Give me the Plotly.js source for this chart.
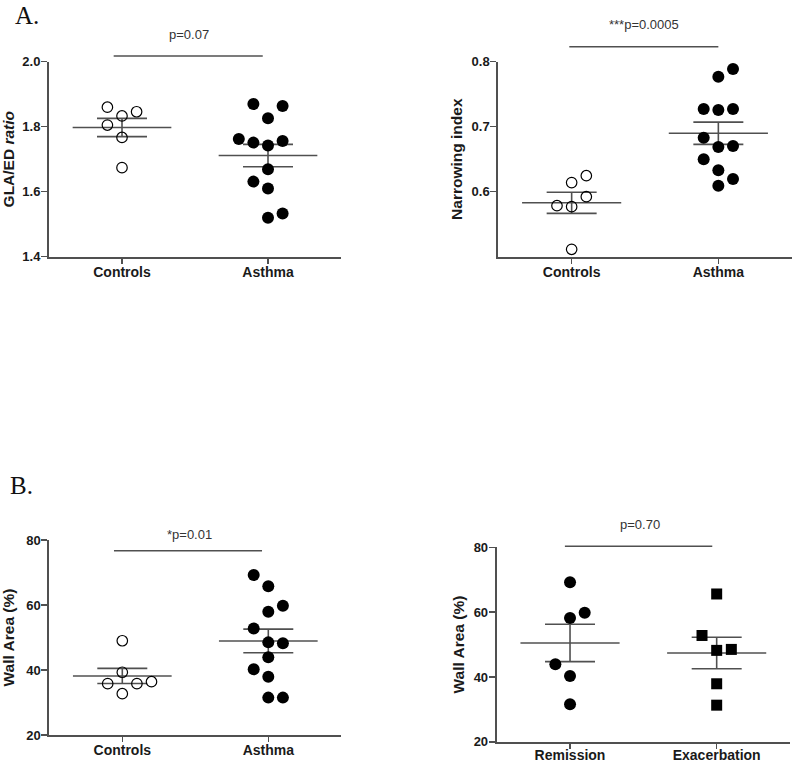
<!DOCTYPE html>
<html>
<head>
<meta charset="utf-8">
<script src="https://cdn.plot.ly/plotly-3.0.1.min.js"></script>
<style>
  html, body { margin: 0; padding: 0; background: #fff; }
  #chart { width: 794px; height: 764px; }
</style>
</head>
<body>
<div id="chart"></div>
<script>
// ---------------- DATA ----------------
// Panel A (left): GLA/ED ratio
const glaCategories = ['Controls', 'Asthma'];
const glaControls = [1.860, 1.846, 1.833, 1.805, 1.767, 1.674];
const glaControlsCols = [-1, 1, 0, -1, 0, 0];
const glaAsthma = [1.870, 1.864, 1.826, 1.762, 1.751, 1.742, 1.756, 1.669, 1.631, 1.610, 1.533, 1.520];
const glaAsthmaCols = [-1, 1, 0, -2, -1, 0, 1, 0, -1, 0, 1, 0];
const glaTicks = [1.4, 1.6, 1.8, 2.0];
const glaTickText = ['1.4', '1.6', '1.8', '2.0'];
const glaP = 'p=0.07';

// Panel A (right): Narrowing index
const niCategories = ['Controls', 'Asthma'];
const niControls = [0.6246, 0.614, 0.5923, 0.5785, 0.577, 0.5114];
const niControlsCols = [1, 0, 1, -1, 0, 0];
const niAsthma = [0.7888, 0.7769, 0.7272, 0.7257, 0.7272, 0.6831, 0.6688, 0.6703, 0.6498, 0.6329, 0.6195, 0.6092];
const niAsthmaCols = [1, 0, -1, 0, 1, -1, 0, 1, -1, 0, 1, 0];
const niTicks = [0.6, 0.7, 0.8];
const niTickText = ['0.6', '0.7', '0.8'];
const niP = '***p=0.0005';

// Panel B (left): Wall area, controls vs asthma
const waCategories = ['Controls', 'Asthma'];
const waControls = [49.0, 39.3, 35.8, 35.8, 36.4, 32.7];
const waControlsCols = [0, 0, -1, 1, 2, 0];
const waAsthma = [69.2, 65.8, 59.8, 57.9, 52.8, 48.5, 48.2, 43.9, 40.2, 37.9, 31.5, 31.5];
const waAsthmaCols = [-1, 0, 1, 0, -1, 0, 1, 0, -1, 0, 0, 1];
const waTicks = [20, 40, 60, 80];
const waTickText = ['20', '40', '60', '80'];
const waP = '*p=0.01';

// Panel B (right): Wall area, remission vs exacerbation
const reCategories = ['Remission', 'Exacerbation'];
const reRemission = [69.2, 58.2, 59.8, 43.9, 40.3, 31.6];
const reRemissionCols = [0, 0, 1, -1, 0, 0];
const reExacerbation = [65.6, 52.8, 48.2, 48.5, 37.9, 31.3];
const reExacerbationCols = [0, -1, 0, 1, 0, 0];
const reTicks = [20, 40, 60, 80];
const reTickText = ['20', '40', '60', '80'];
const reP = 'p=0.70';

// ---------------- STYLE / LAYOUT HELPERS ----------------
const FONT = 'Liberation Sans, Arial, Helvetica, sans-serif';
const LINE = '#505050';
const COL_STEP = 0.1;       // horizontal spacing of dot columns (x units)
const MEAN_HALF = 0.338;    // half-width of mean line (x units)
const SEM_CAP = 25;         // half-width of SEM caps (px)
const XR = [-0.5, 1.5];

function mean(a) { return a.reduce((s, v) => s + v, 0) / a.length; }
function sem(a) {
  const m = mean(a);
  const v = a.reduce((s, x) => s + (x - m) * (x - m), 0) / (a.length - 1);
  return Math.sqrt(v / a.length);
}

const traces = [];
function addGroup(vals, cols, catIdx, ax, symbol, size, lineW) {
  const xa = ax === 1 ? 'x' : 'x' + ax;
  const ya = ax === 1 ? 'y' : 'y' + ax;
  const m = mean(vals), s = sem(vals);
  // mean line
  traces.push({
    type: 'scatter', mode: 'lines', xaxis: xa, yaxis: ya, hoverinfo: 'skip',
    x: [catIdx - MEAN_HALF, catIdx + MEAN_HALF], y: [m, m],
    line: { color: LINE, width: 1.6 }, showlegend: false
  });
  // SEM bar
  traces.push({
    type: 'scatter', mode: 'markers', xaxis: xa, yaxis: ya, hoverinfo: 'skip',
    x: [catIdx], y: [m], marker: { size: 1, opacity: 0 },
    error_y: { type: 'data', array: [s], visible: true, color: LINE, thickness: 1.6, width: SEM_CAP },
    showlegend: false
  });
  // points
  traces.push({
    type: 'scatter', mode: 'markers', xaxis: xa, yaxis: ya,
    x: cols.map(c => catIdx + c * COL_STEP), y: vals,
    marker: { symbol: symbol, size: size, color: '#000', line: { color: '#000', width: lineW } },
    showlegend: false, cliponaxis: false
  });
}

addGroup(glaControls, glaControlsCols, 0, 1, 'circle-open', 10.5, 1.2);
addGroup(glaAsthma, glaAsthmaCols, 1, 1, 'circle', 12, 0);
addGroup(niControls, niControlsCols, 0, 2, 'circle-open', 10.5, 1.2);
addGroup(niAsthma, niAsthmaCols, 1, 2, 'circle', 12, 0);
addGroup(waControls, waControlsCols, 0, 3, 'circle-open', 10.5, 1.2);
addGroup(waAsthma, waAsthmaCols, 1, 3, 'circle', 12, 0);
addGroup(reRemission, reRemissionCols, 0, 4, 'circle', 12, 0);
addGroup(reExacerbation, reExacerbationCols, 1, 4, 'square', 11, 0);

function xAxis(domain, cats, anchor, lblStandoff) {
  return {
    domain: domain, anchor: anchor, range: XR, tickvals: [0, 1], ticktext: cats,
    showline: true, linecolor: LINE, linewidth: 2, ticks: 'outside', ticklen: 5,
    tickcolor: LINE, tickwidth: 1.5, showgrid: false, zeroline: false, fixedrange: true,
    ticklabelstandoff: lblStandoff,
    tickfont: { family: FONT, size: 14, color: '#1a1a1a', weight: 'bold' }
  };
}
function yAxis(domain, range, tv, tt, title, anchor, standoff) {
  return {
    domain: domain, anchor: anchor, range: range, tickvals: tv, ticktext: tt,
    showline: true, linecolor: LINE, linewidth: 2, ticks: 'outside', ticklen: 6,
    tickcolor: LINE, tickwidth: 1.5, showgrid: false, zeroline: false, fixedrange: true,
    ticklabelstandoff: -2,
    tickfont: { family: FONT, size: 13, color: '#1a1a1a', weight: 'bold' },
    title: { text: title, font: { family: FONT, size: 15.5, color: '#1a1a1a', weight: 'bold' }, standoff: standoff }
  };
}

const W = 794, H = 764;
const dA1x = [49 / W, 341 / W];
const dA2x = [498.3 / W, 791.7 / W];
const dB1x = [49.3 / W, 341.3 / W];
const dB2x = [496.7 / W, 790 / W];
const dAy = [(H - 256.7) / H, (H - 61.7) / H];
const dB1y = [(H - 735) / H, (H - 540) / H];
const dB2y = [(H - 741.8) / H, (H - 547.3) / H];

const glaRange = [1.4, 2.0], niRange = [0.5, 0.8], waRange = [20, 80], reRange = [20, 80];

// significance brackets: [axisNum, x0, x1, yLine, textX, textY, text, yRange]
const brackets = [
  [1, -0.057, 0.964, 2.0175, 0.457, 2.085, glaP, glaRange],
  [2, -0.016, 1.0, 0.823, 0.496, 0.8565, niP, niRange],
  [3, -0.057, 0.957, 76.7, 0.457, 81.75, waP, waRange],
  [4, -0.035, 0.97, 80.3, 0.48, 86.9, reP, reRange]
];
const fx = v => (v - XR[0]) / (XR[1] - XR[0]);
const fy = (v, r) => (v - r[0]) / (r[1] - r[0]);

const shapes = [], annotations = [];
brackets.forEach(b => {
  const n = b[0] === 1 ? '' : b[0];
  shapes.push({
    type: 'line', xref: 'x' + n + ' domain', yref: 'y' + n + ' domain',
    x0: fx(b[1]), x1: fx(b[2]), y0: fy(b[3], b[7]), y1: fy(b[3], b[7]),
    line: { color: LINE, width: 1.5 }
  });
  annotations.push({
    xref: 'x' + n + ' domain', yref: 'y' + n + ' domain',
    x: fx(b[4]), y: fy(b[5], b[7]), text: b[6], showarrow: false,
    xanchor: 'center', yanchor: 'middle',
    font: { family: FONT, size: 13, color: '#333' }
  });
});
// panel letters
const SERIF = 'Liberation Serif, Times New Roman, serif';
annotations.push({ xref: 'paper', yref: 'paper', x: 13 / W, y: 1, text: 'A.', showarrow: false,
  xanchor: 'left', yanchor: 'top',
  font: { family: SERIF, size: 25, color: '#111' } });
annotations.push({ xref: 'paper', yref: 'paper', x: 8 / W, y: 1 - 470 / H, text: 'B.', showarrow: false,
  xanchor: 'left', yanchor: 'top',
  font: { family: SERIF, size: 25, color: '#111' } });

const layout = {
  width: W, height: H,
  margin: { l: 0, r: 0, t: 0, b: 0 },
  paper_bgcolor: '#fff', plot_bgcolor: '#fff',
  showlegend: false,
  font: { family: FONT },
  xaxis: xAxis(dA1x, glaCategories, 'y', -4),
  yaxis: yAxis(dAy, glaRange, glaTicks, glaTickText, 'GLA/ED <i>ratio</i>', 'x', 10),
  xaxis2: xAxis(dA2x, niCategories, 'y2', -4),
  yaxis2: yAxis(dAy, niRange, niTicks, niTickText, 'Narrowing index', 'x2', 5),
  xaxis3: xAxis(dB1x, waCategories, 'y3', -4),
  yaxis3: yAxis(dB1y, waRange, waTicks, waTickText, 'Wall Area (%)', 'x3', 9),
  xaxis4: xAxis(dB2x, reCategories, 'y4', -6),
  yaxis4: yAxis(dB2y, reRange, reTicks, reTickText, 'Wall Area (%)', 'x4', 5),
  shapes: shapes,
  annotations: annotations
};

Plotly.newPlot('chart', traces, layout, { displayModeBar: false, staticPlot: true });
</script>
</body>
</html>
